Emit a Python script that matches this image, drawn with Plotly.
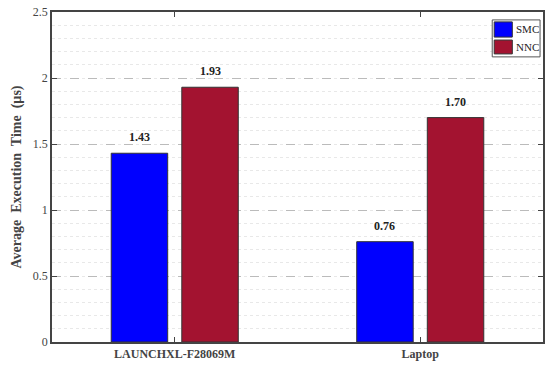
import plotly.graph_objects as go

categories = ["LAUNCHXL-F28069M", "Laptop"]
smc_times = [1.43, 0.76]
nnc_times = [1.93, 1.70]
series_names = ["SMC", "NNC"]
series_colors = ["#0000FF", "#A31330"]
y_ticks = [0, 0.5, 1, 1.5, 2, 2.5]
y_tick_labels = ["0", "0.5", "1", "1.5", "2", "2.5"]

serif = "Liberation Serif, Times New Roman, serif"
axis_col = "#444444"
bar_offset_px = 35.5  # half the distance between paired bar centres

fig = go.Figure()
for i, (name, vals) in enumerate(zip(series_names, [smc_times, nnc_times])):
    fig.add_trace(go.Bar(
        x=categories, y=vals, name=name,
        marker=dict(color=series_colors[i], line=dict(color="#333333", width=1)),
        showlegend=False,
    ))
    # value labels above each bar
    shift = -bar_offset_px if i == 0 else bar_offset_px
    for c, v in zip(categories, vals):
        fig.add_annotation(
            x=c, y=v, xref="x", yref="y", text=f"<b>{v:.2f}</b>",
            showarrow=False, xshift=shift, yshift=7, yanchor="bottom",
            font=dict(family=serif, size=12, color="#222222"),
        )

# legend box with swatches
fig.add_shape(type="rect", xref="paper", yref="paper",
              x0=0.8966, x1=0.994, y0=0.864, y1=0.976,
              line=dict(color="#555555", width=1), fillcolor="white")
swatch_rows = [(0.970, 0.924), (0.915, 0.873)]
for (y1, y0), name, col in zip(swatch_rows, series_names, series_colors):
    fig.add_shape(type="rect", xref="paper", yref="paper",
                  x0=0.9006, x1=0.9375, y0=y0, y1=y1,
                  line=dict(color="#333333", width=1), fillcolor=col)
    fig.add_annotation(x=0.993, y=(y0 + y1) / 2, xref="paper", yref="paper",
                       text=name, showarrow=False, xanchor="right",
                       yanchor="middle", borderpad=0,
                       font=dict(family=serif, size=11, color="#222222"))

fig.update_layout(
    width=546, height=367,
    margin=dict(l=52, r=1, t=12, b=25),
    paper_bgcolor="white", plot_bgcolor="white",
    barmode="group", bargap=0.425, bargroupgap=0.2,
    font=dict(family=serif, color=axis_col),
    showlegend=False,
)
fig.update_xaxes(
    range=[-0.5, 1.5], showline=True, linecolor=axis_col, linewidth=1.5,
    mirror="ticks", ticks="inside", ticklen=5, tickcolor=axis_col,
    tickfont=dict(family=serif, size=12, color=axis_col),
    tickvals=categories, ticktext=[f"<b>{c}</b>" for c in categories],
    showgrid=False,
)
fig.update_yaxes(
    range=[0, 2.5], tickvals=y_ticks, ticktext=y_tick_labels,
    showline=True, linecolor=axis_col, linewidth=1.5, mirror="ticks",
    ticks="inside", ticklen=5, tickcolor=axis_col,
    tickfont=dict(family=serif, size=12, color=axis_col),
    showgrid=True, gridcolor="#bbbbbb", griddash="dash", gridwidth=1,
    zeroline=False,
    minor=dict(dtick=0.1, showgrid=True, gridcolor="#e8e8e8", griddash="dot"),
    title=dict(text="<b>Average  Execution  Time  (µs)</b>",
               font=dict(family=serif, size=14, color=axis_col), standoff=8),
)

fig.write_html("out.html")
